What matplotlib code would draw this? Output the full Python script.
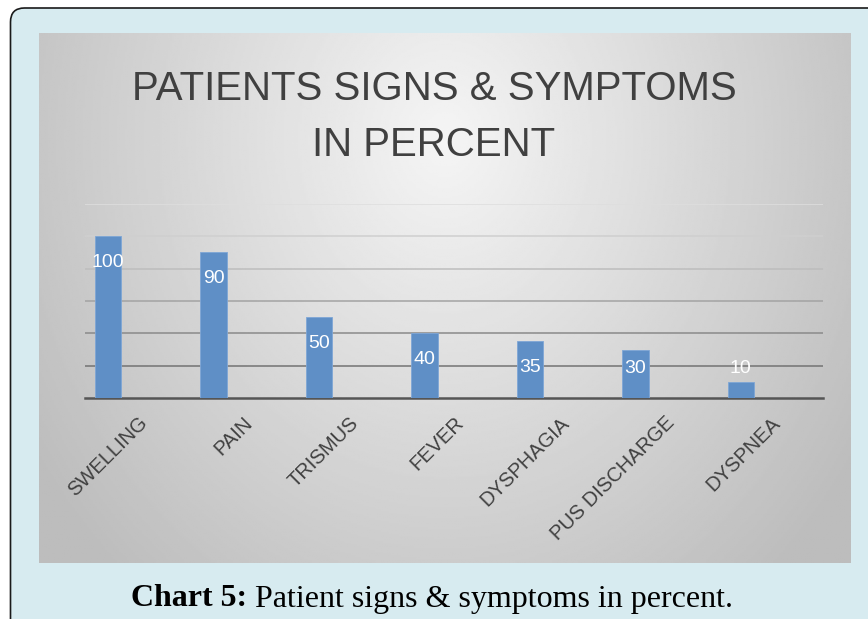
import numpy as np
import matplotlib
matplotlib.use("Agg")
import matplotlib.pyplot as plt
from matplotlib.patches import FancyBboxPatch
from matplotlib.transforms import IdentityTransform

SYMPTOMS = ["SWELLING", "PAIN", "TRISMUS", "FEVER", "DYSPHAGIA", "PUS DISCHARGE", "DYSPNEA"]
PERCENT = [100, 90, 50, 40, 35, 30, 10]
Y_TICKS = [0, 20, 40, 60, 80, 100, 120]

W, H = 868, 619
NARROW = ["Liberation Sans Narrow", "Liberation Sans", "DejaVu Sans"]

fig = plt.figure(figsize=(W / 100, H / 100), dpi=100, facecolor="white")

# light blue frame with rounded top-left corner (cut at right / bottom)
frame = FancyBboxPatch((10.5, -60), 950, 611 + 60,
                       boxstyle="round,pad=0,rounding_size=14",
                       transform=IdentityTransform(),
                       facecolor="#d7ebf0", edgecolor="#1a1a1a", linewidth=1.2,
                       zorder=-10)
fig.patches.append(frame)

# gray panel with radial gradient
px0, py0, px1, py1 = 39, 33, 851, 563
bg = fig.add_axes([px0 / W, 1 - py1 / H, (px1 - px0) / W, (py1 - py0) / H])
gx, gy = np.meshgrid(np.linspace(0, 1, 400), np.linspace(0, 1, 300))
d = np.sqrt(((gx - 0.5) / 0.55) ** 2 + ((gy - 0.2) / 1.0) ** 2)
shade = np.clip(0.96 - 0.2 * d, 0.74, 0.96)
bg.imshow(shade, cmap="gray", vmin=0, vmax=1, aspect="auto", extent=[0, 1, 1, 0])
bg.set_axis_off()

# plot area
x0, x1, ytop, ybase = 85, 823, 204, 398
ax = fig.add_axes([x0 / W, 1 - ybase / H, (x1 - x0) / W, (ybase - ytop) / H])
ax.patch.set_alpha(0)

pos = np.arange(len(SYMPTOMS))
bar_x = pos - 0.28
bars = ax.bar(bar_x, PERCENT, width=0.25, color="#5f8fc6", edgecolor="#7ea6d6",
              linewidth=0.6, zorder=3)

for bx, v in zip(bar_x, PERCENT):
    ax.text(bx, max(v - 16, 18), str(v), ha="center", va="center",
            color="white", fontsize=14, family=NARROW, zorder=4)

ax.set_xlim(-0.5, len(SYMPTOMS) - 0.5)
ax.set_ylim(0, 120)
ax.set_yticks(Y_TICKS)
ax.tick_params(axis="y", length=0, labelleft=False)
ax.grid(axis="y", linewidth=1.1, zorder=1)
grid_colors = ["none", "#737373", "#8a8a8a", "#a3a3a3", "#bdbdbd", "#cfcfcf", "#dedede"]
for line, c in zip(ax.yaxis.get_gridlines(), grid_colors):
    line.set_color(c)
ax.set_axisbelow(True)

for s in ["top", "right", "left"]:
    ax.spines[s].set_visible(False)
ax.spines["bottom"].set_color("#555555")
ax.spines["bottom"].set_linewidth(1.8)

ax.set_xticks(pos)
ax.set_xticklabels(SYMPTOMS, rotation=45, ha="right", va="top",
                   rotation_mode="anchor", fontsize=14.5, color="#404040",
                   family=NARROW)
ax.tick_params(axis="x", length=0, pad=11)

fig.text(0.5, 1 - 89 / H, "PATIENTS SIGNS & SYMPTOMS", ha="center", va="center",
         fontsize=29, color="#404040", family=NARROW)
fig.text(0.5, 1 - 145 / H, "IN PERCENT", ha="center", va="center",
         fontsize=29, color="#404040", family=NARROW)

# caption: bold lead + regular text, centred together
renderer = fig.canvas.get_renderer()
cap_y = 1 - 599 / H
serif = ["Liberation Serif", "DejaVu Serif"]
t1 = fig.text(0, cap_y, "Chart 5: ", ha="left", va="center", fontsize=23,
              fontweight="bold", family=serif)
t2 = fig.text(0, cap_y, "Patient signs & symptoms in percent.", ha="left",
              va="center", fontsize=23, family=serif)
w1 = t1.get_window_extent(renderer).width
w2 = t2.get_window_extent(renderer).width
start = 432 - (w1 + w2) / 2
t1.set_x(start / W)
t2.set_x((start + w1) / W)

fig.savefig("out.png", dpi=100, facecolor=fig.get_facecolor())
